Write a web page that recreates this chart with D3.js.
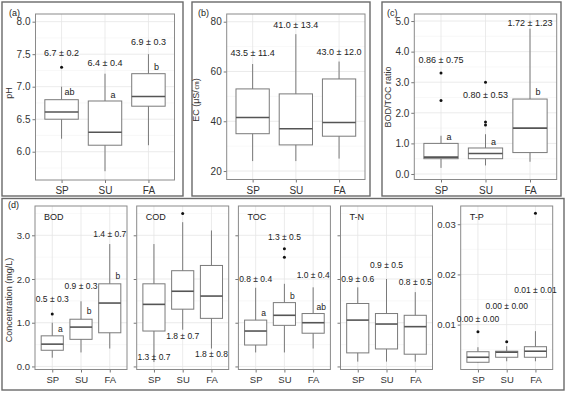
<!DOCTYPE html>
<html>
<head>
<meta charset="utf-8">
<script src="https://cdn.jsdelivr.net/npm/d3@7"></script>
<style>
body { margin: 0; background: #fff; }
svg { display: block; font-family: "Liberation Sans", Arial, sans-serif; }
</style>
</head>
<body>
<script>
/* seasons on every x axis */
var seasons = ["SP", "SU", "FA"];

/* box stats per season: [lower whisker, q1, median, q3, upper whisker] */
var phBoxes = [[6.2, 6.5, 6.61, 6.8, 7.0], [5.7, 6.1, 6.3, 6.78, 7.2], [6.1, 6.7, 6.85, 7.2, 7.5]];
var phOutliers = [[7.3], [], []];
var phMeans = ["6.7 ± 0.2", "6.4 ± 0.4", "6.9 ± 0.3"];
var phMeanY = [7.52, 7.36, 7.69];
var phLetters = ["ab", "a", "b"];
var phLetterY = [6.92, 6.87, 7.31];
var phTicks = [6.0, 6.5, 7.0, 7.5, 8.0];

var ecBoxes = [[24, 35, 41.5, 53, 63], [24, 30.5, 37, 51, 75], [25, 34, 39.5, 57, 64]];
var ecOutliers = [[], [], []];
var ecMeans = ["43.5 ± 11.4", "41.0 ± 13.4", "43.0 ± 12.0"];
var ecMeanY = [67.4, 78.7, 68];
var ecTicks = [20, 40, 60, 80];

var ratioBoxes = [[0.2, 0.5, 0.55, 1.0, 1.25], [0.28, 0.5, 0.67, 0.85, 1.3], [0.4, 0.7, 1.5, 2.45, 4.75]];
var ratioOutliers = [[2.4, 3.3], [1.6, 1.7, 3.0], []];
var ratioMeans = ["0.86 ± 0.75", "0.80 ± 0.53", "1.72 ± 1.23"];
var ratioMeanY = [3.73, 2.6, 4.95];
var ratioLetters = ["a", "a", "b"];
var ratioLetterY = [1.22, 1.06, 2.67];
var ratioTicks = [0, 1, 2, 3, 4, 5];

var bodBoxes = [[0.2, 0.37, 0.51, 0.70, 1.0], [0.32, 0.62, 0.9, 1.08, 1.49], [0.41, 0.77, 1.45, 1.89, 2.8]];
var bodOutliers = [[1.2], [], []];
var bodMeans = ["0.5 ± 0.3", "0.9 ± 0.3", "1.4 ± 0.7"];
var bodMeanY = [1.55, 1.85, 3.03];
var bodLetters = ["a", "b", "b"];
var bodLetterY = [0.86, 1.26, 2.07];

var codBoxes = [[0.1, 0.81, 1.42, 1.89, 2.8], [0.84, 1.31, 1.72, 2.19, 3.3], [0.41, 1.1, 1.61, 2.31, 3.11]];
var codOutliers = [[], [3.5], []];
var codMeans = ["1.3 ± 0.7", "1.8 ± 0.7", "1.8 ± 0.8"];
var codMeanY = [0.21, 0.69, 0.28];

var tocBoxes = [[0.32, 0.49, 0.81, 1.06, 1.8], [0.32, 0.94, 1.17, 1.46, 1.89], [0.41, 0.76, 1.0, 1.21, 1.81]];
var tocOutliers = [[], [2.5, 2.69], []];
var tocMeans = ["0.8 ± 0.4", "1.3 ± 0.5", "1.0 ± 0.4"];
var tocMeanY = [1.99, 2.97, 2.09];
var tocLetters = ["a", "b", "ab"];
var tocLetterY = [1.22, 1.61, 1.37];

var tnBoxes = [[0.11, 0.31, 1.06, 1.44, 1.81], [0.11, 0.4, 0.97, 1.21, 2.0], [0.11, 0.28, 0.91, 1.17, 1.7]];
var tnOutliers = [[], [], []];
var tnMeans = ["0.9 ± 0.6", "0.9 ± 0.5", "0.8 ± 0.5"];
var tnMeanY = [1.99, 2.33, 1.93];

var concTicks = [0, 1, 2, 3];

var tpBoxes = [[0.0024, 0.0025, 0.0035, 0.0046, 0.0055], [0.0027, 0.0035, 0.0045, 0.0047, 0.0057], [0.0027, 0.0035, 0.0047, 0.0056, 0.0087]];
var tpOutliers = [[0.0086], [0.0066], [0.0322]];
var tpMeans = ["0.00 ± 0.00", "0.00 ± 0.00", "0.01 ± 0.01"];
var tpMeanY = [0.0111, 0.0138, 0.0169];
var tpTicks = [0.01, 0.02, 0.03];

var W = 567, H = 394;

var svg = d3.select("body").append("svg")
    .attr("width", W)
    .attr("height", H);

// outer frames of the four panels
var frames = [
    {x0: 2, y0: 2, x1: 183, y1: 196},
    {x0: 192, y0: 2, x1: 370, y1: 196},
    {x0: 382, y0: 2, x1: 561, y1: 196},
    {x0: 2, y0: 198.5, x1: 564, y1: 390}
];
svg.selectAll(".frame")
    .data(frames)
    .enter().append("rect")
    .attr("class", "frame")
    .attr("x", function(f){ return f.x0; })
    .attr("y", function(f){ return f.y0; })
    .attr("width", function(f){ return f.x1 - f.x0; })
    .attr("height", function(f){ return f.y1 - f.y0; })
    .attr("fill", "none")
    .attr("stroke", "#6a6a6a")
    .attr("stroke-width", 1.4);

/**
 * Draws one boxplot panel
 * @param {Object} p panel settings (area, domain, data arrays)
 */
function drawPlot(p){
    var g = svg.append("g");
    var x = d3.scalePoint()
        .domain(seasons)
        .range([p.left, p.right])
        .padding(0.6);
    var y = d3.scaleLinear()
        .domain(p.domain)
        .range([p.bottom, p.top]);
    var bw = x.step() * 0.77;

    // minor grid halfway between the breaks
    var half = (p.ticks[1] - p.ticks[0]) / 2;
    var minors = [];
    for (var v = p.ticks[0] - half; v <= p.ticks[p.ticks.length - 1] + half + 1e-9; v += half * 2){
        if (v >= p.domain[0] && v <= p.domain[1]) minors.push(v);
    }
    g.selectAll(".minor")
        .data(minors)
        .enter().append("line")
        .attr("x1", p.left).attr("x2", p.right)
        .attr("y1", function(d){ return y(d); })
        .attr("y2", function(d){ return y(d); })
        .attr("stroke", "#f3f3f3")
        .attr("stroke-width", 0.6);
    g.selectAll(".major")
        .data(p.ticks)
        .enter().append("line")
        .attr("x1", p.left).attr("x2", p.right)
        .attr("y1", function(d){ return y(d); })
        .attr("y2", function(d){ return y(d); })
        .attr("stroke", "#e6e6e6")
        .attr("stroke-width", 0.8);
    g.selectAll(".vgrid")
        .data(seasons)
        .enter().append("line")
        .attr("x1", function(d){ return x(d); })
        .attr("x2", function(d){ return x(d); })
        .attr("y1", p.top).attr("y2", p.bottom)
        .attr("stroke", "#e6e6e6")
        .attr("stroke-width", 0.8);

    // axes
    var yAxis = g.append("g")
        .attr("transform", "translate(" + p.left + ",0)")
        .call(d3.axisLeft(y).tickValues(p.ticks).tickSize(3).tickPadding(2)
            .tickFormat(p.showY ? d3.format(p.fmt) : ""));
    var xAxis = g.append("g")
        .attr("transform", "translate(0," + p.bottom + ")")
        .call(d3.axisBottom(x).tickSize(3).tickPadding(4));
    [yAxis, xAxis].forEach(function(a){
        a.select(".domain").remove();
        a.selectAll(".tick line").attr("stroke", "#777");
        a.selectAll("text")
            .attr("fill", "#333")
            .style("font-size", p.tickSize + "px")
            .style("font-family", "'Liberation Sans', Arial, sans-serif");
    });

    g.append("rect")
        .attr("x", p.left).attr("y", p.top)
        .attr("width", p.right - p.left)
        .attr("height", p.bottom - p.top)
        .attr("fill", "none")
        .attr("stroke", "#8a8a8a")
        .attr("stroke-width", 1);

    var boxes = g.selectAll(".box")
        .data(p.boxes)
        .enter().append("g")
        .attr("class", "box");
    // whiskers
    boxes.append("line")
        .attr("x1", function(d, i){ return x(seasons[i]); })
        .attr("x2", function(d, i){ return x(seasons[i]); })
        .attr("y1", function(d){ return y(d[0]); })
        .attr("y2", function(d){ return y(d[4]); })
        .attr("stroke", "#7a7a7a")
        .attr("stroke-width", 1);
    boxes.append("rect")
        .attr("x", function(d, i){ return x(seasons[i]) - bw / 2; })
        .attr("width", bw)
        .attr("y", function(d){ return y(d[3]); })
        .attr("height", function(d){ return y(d[1]) - y(d[3]); })
        .attr("fill", "#fff")
        .attr("stroke", "#7a7a7a")
        .attr("stroke-width", 1);
    boxes.append("line")
        .attr("x1", function(d, i){ return x(seasons[i]) - bw / 2; })
        .attr("x2", function(d, i){ return x(seasons[i]) + bw / 2; })
        .attr("y1", function(d){ return y(d[2]); })
        .attr("y2", function(d){ return y(d[2]); })
        .attr("stroke", "#555")
        .attr("stroke-width", 1.6);

    // outliers
    var pts = [];
    p.outliers.forEach(function(list, i){
        list.forEach(function(v){ pts.push({s: seasons[i], v: v}); });
    });
    g.selectAll(".out")
        .data(pts)
        .enter().append("circle")
        .attr("cx", function(d){ return x(d.s); })
        .attr("cy", function(d){ return y(d.v); })
        .attr("r", 1.5)
        .attr("fill", "#111");

    // mean ± sd labels
    g.selectAll(".mean")
        .data(p.means)
        .enter().append("text")
        .attr("x", function(d, i){ return x(seasons[i]); })
        .attr("y", function(d, i){ return y(p.meanY[i]); })
        .attr("dy", "0.35em")
        .attr("text-anchor", "middle")
        .style("font-size", p.labelSize + "px")
        .attr("fill", "#222")
        .text(function(d){ return d; });

    if (p.letters){
        g.selectAll(".letter")
            .data(p.letters)
            .enter().append("text")
            .attr("x", function(d, i){ return x(seasons[i]) + 8; })
            .attr("y", function(d, i){ return y(p.letterY[i]); })
            .attr("dy", "0.35em")
            .attr("text-anchor", "middle")
            .style("font-size", p.labelSize + "px")
            .attr("fill", "#222")
            .text(function(d){ return d; });
    }

    if (p.facet){
        g.append("text")
            .attr("x", p.left + 9)
            .attr("y", p.top + 14)
            .style("font-size", "9px")
            .attr("fill", "#222")
            .text(p.facet);
    }
    if (p.title){
        g.append("text")
            .attr("transform", "translate(" + p.titleX + "," + p.titleY + ") rotate(-90)")
            .attr("text-anchor", "middle")
            .style("font-size", "9px")
            .attr("fill", "#333")
            .text(p.title);
    }
}

drawPlot({left: 35.5, right: 174.5, top: 14, bottom: 180, domain: [5.565, 8.118],
    ticks: phTicks, fmt: ".1f", showY: true, tickSize: 10, labelSize: 9,
    boxes: phBoxes, outliers: phOutliers, means: phMeans, meanY: phMeanY,
    letters: phLetters, letterY: phLetterY, title: "pH", titleX: 12, titleY: 93});

drawPlot({left: 226.7, right: 365, top: 14, bottom: 179.5, domain: [16.6, 83.1],
    ticks: ecTicks, fmt: "d", showY: true, tickSize: 10, labelSize: 9,
    boxes: ecBoxes, outliers: ecOutliers, means: ecMeans, meanY: ecMeanY,
    title: "EC (μS/㎝)", titleX: 199, titleY: 100});

drawPlot({left: 414.3, right: 556.7, top: 14, bottom: 179.5, domain: [-0.18, 5.23],
    ticks: ratioTicks, fmt: ".1f", showY: true, tickSize: 10, labelSize: 9,
    boxes: ratioBoxes, outliers: ratioOutliers, means: ratioMeans, meanY: ratioMeanY,
    letters: ratioLetters, letterY: ratioLetterY, title: "BOD/TOC ratio", titleX: 391, titleY: 97});

var concDomain = [-0.07, 3.67];
drawPlot({left: 35, right: 127, top: 206, bottom: 369.5, domain: concDomain,
    ticks: concTicks, fmt: ".1f", showY: true, tickSize: 9.5, labelSize: 8.5,
    boxes: bodBoxes, outliers: bodOutliers, means: bodMeans, meanY: bodMeanY,
    letters: bodLetters, letterY: bodLetterY, facet: "BOD",
    title: "Concentration (mg/L)", titleX: 12, titleY: 300});

drawPlot({left: 136.7, right: 228.7, top: 206, bottom: 369.5, domain: concDomain,
    ticks: concTicks, fmt: ".1f", showY: false, tickSize: 9.5, labelSize: 8.5,
    boxes: codBoxes, outliers: codOutliers, means: codMeans, meanY: codMeanY, facet: "COD"});

drawPlot({left: 238.4, right: 330.4, top: 206, bottom: 369.5, domain: concDomain,
    ticks: concTicks, fmt: ".1f", showY: false, tickSize: 9.5, labelSize: 8.5,
    boxes: tocBoxes, outliers: tocOutliers, means: tocMeans, meanY: tocMeanY,
    letters: tocLetters, letterY: tocLetterY, facet: "TOC"});

drawPlot({left: 340.5, right: 432.5, top: 206, bottom: 369.5, domain: concDomain,
    ticks: concTicks, fmt: ".1f", showY: false, tickSize: 9.5, labelSize: 8.5,
    boxes: tnBoxes, outliers: tnOutliers, means: tnMeans, meanY: tnMeanY, facet: "T-N"});

drawPlot({left: 460.7, right: 552.7, top: 206, bottom: 369.5, domain: [0.00106, 0.03363],
    ticks: tpTicks, fmt: ".2f", showY: true, tickSize: 9.5, labelSize: 8.5,
    boxes: tpBoxes, outliers: tpOutliers, means: tpMeans, meanY: tpMeanY, facet: "T-P"});

// panel tags
var tags = [{t: "(a)", x: 9, y: 16}, {t: "(b)", x: 198, y: 16}, {t: "(c)", x: 387, y: 16}, {t: "(d)", x: 8, y: 208}];
svg.selectAll(".tag")
    .data(tags)
    .enter().append("text")
    .attr("x", function(d){ return d.x; })
    .attr("y", function(d){ return d.y; })
    .style("font-size", "9px")
    .attr("fill", "#222")
    .text(function(d){ return d.t; });
</script>
</body>
</html>
